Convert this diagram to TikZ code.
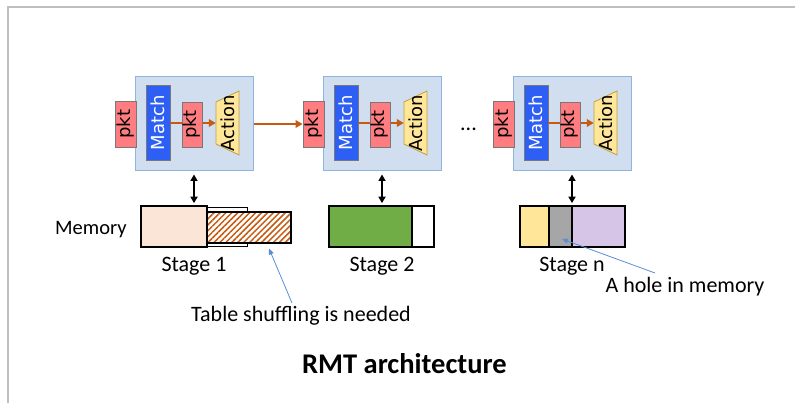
\documentclass[tikz,border=0pt]{standalone}
\usepackage{fontspec}
\setmainfont{Carlito}
\newfontfamily\boxfont{DejaVu Sans}
\usetikzlibrary{arrows.meta,patterns.meta,calc}

\definecolor{framegray}{RGB}{191,191,191}
\definecolor{boxfill}{RGB}{208,222,240}
\definecolor{boxedge}{RGB}{143,180,222}
\definecolor{pktfill}{RGB}{255,124,128}
\definecolor{pktedge}{RGB}{120,120,120}
\definecolor{matchfill}{RGB}{45,95,245}
\definecolor{actfill}{RGB}{255,230,153}
\definecolor{actedge}{RGB}{191,160,60}
\definecolor{flow}{RGB}{197,90,17}
\definecolor{peach}{RGB}{251,229,214}
\definecolor{memgreen}{RGB}{112,173,71}
\definecolor{memyellow}{RGB}{255,230,153}
\definecolor{memgray}{RGB}{166,166,166}
\definecolor{mempurple}{RGB}{215,197,232}
\definecolor{note}{RGB}{91,140,213}

% one match-action stage; #1 = horizontal offset, #2 = name suffix
\newcommand{\rmtstage}[2]{%
  \begin{scope}[xshift=#1pt]
    \node[stagebox] (st#2) at (194,124) {};
    \node[pktbox] (pin#2) at (125.5,124) {pkt};
    \node[matchbox] (mt#2) at (158,123) {Match};
    \coordinate (ac#2) at (227.5,123);
    \path[actshape] ($(ac#2)+(-11.5,-21)$) -- ($(ac#2)+(11.5,-32)$)
      -- ($(ac#2)+(11.5,32)$) -- ($(ac#2)+(-11.5,21)$) -- cycle;
    \node[actlabel] (act#2) at (ac#2) {Action};
    \draw[flowarrow] (mt#2) -- (act#2);
    \node[pktbox, minimum height=20pt, minimum width=45pt] (pmid#2) at (192,124.5) {pkt};
  \end{scope}}

\begin{document}
\begin{tikzpicture}[x=1pt,y=-1pt,
  every node/.style={font=\fontsize{22}{26}\selectfont},
  stagebox/.style={draw=boxedge, fill=boxfill, line width=1pt,
    minimum width=118pt, minimum height=94pt, inner sep=0pt},
  pktbox/.style={draw=pktedge, fill=pktfill, line width=0.8pt, rotate=90,
    minimum width=46pt, minimum height=21pt, inner sep=0pt,
    font=\boxfont\fontsize{18}{18}\selectfont},
  matchbox/.style={draw=pktedge, fill=matchfill, line width=0.8pt, rotate=90,
    minimum width=75pt, minimum height=24pt, inner sep=0pt, text=white,
    font=\boxfont\fontsize{18}{18}\selectfont},
  actshape/.style={draw=actedge, fill=actfill, line width=0.8pt},
  actlabel/.style={rotate=90, minimum width=64pt, minimum height=23pt,
    inner sep=0pt, font=\boxfont\fontsize{18}{18}\selectfont},
  flowarrow/.style={draw=flow, line width=2.2pt,
    -{Triangle[length=7pt,width=7.5pt]}},
  memcell/.style={draw=black, line width=1.7pt, minimum height=41pt,
    inner sep=0pt},
  memlink/.style={line width=1.7pt,
    {Triangle[length=6.5pt,width=7pt]}-{Triangle[length=6.5pt,width=7pt]},
    shorten <=3pt, shorten >=2pt},
  notearrow/.style={draw=note, line width=0.8pt,
    -{Triangle[length=6pt,width=5pt]}},
  label/.style={anchor=base, inner sep=0pt}]

\useasboundingbox (0,0) rectangle (795,403);
\draw[framegray, line width=2pt] (8,403) -- (8,7) -- (795,7);

% the three pipeline stages
\rmtstage{0}{1}
\rmtstage{188}{2}
\rmtstage{378}{n}

\draw[flowarrow] (st1) -- (pin2);
\node[label] (dots) at (468.5,131) {...};

% stage 1 memory: used block, free space and the table that needs room
\node[memcell, draw, line width=0.8pt, minimum width=40pt, minimum height=39pt] (m1free) at (227,226.5) {};
\node[memcell, fill=peach, minimum width=66pt] (m1) at (174,226.5) {};
\node[memcell, minimum width=84pt, minimum height=31pt,
  preaction={fill=white},
  pattern={Lines[angle=45,distance=4.2pt,line width=1.5pt]}, pattern color=flow] (m1t) at (249,227.5) {};

% stage 2 memory
\node[memcell, fill=memgreen, minimum width=83pt] (m2) at (370.5,226.5) {};
\node[memcell, fill=white, minimum width=22pt] (m2free) at (423,226.5) {};

% stage n memory with a hole
\node[memcell, fill=memyellow, minimum width=29pt] (mny) at (534.5,226.5) {};
\node[memcell, fill=memgray, minimum width=23pt] (mng) at (560.5,226.5) {};
\node[memcell, fill=mempurple, minimum width=53pt] (mnp) at (598.5,226.5) {};

% links between stages and their memory
\draw[memlink] (st1.south) -- (st1.south |- m1.north);
\draw[memlink] (st2.south) -- (st2.south |- m2.north);
\draw[memlink] (stn.south) -- (stn.south |- mnp.north);

% labels
\node[label, anchor=base west, font=\fontsize{20.5}{24}\selectfont] (memlbl) at (55,235) {Memory};
\node[label] (s1) at (194,272) {Stage 1};
\node[label] (s2) at (382,272) {Stage 2};
\node[label] (sn) at (572,272) {Stage n};
\node[label] (shuf) at (301,322) {Table shuffling is needed};
\node[label] (hole) at (685,293) {A hole in memory};
\node[label, font=\bfseries\fontsize{28.5}{32}\selectfont] (title) at (404.5,373) {RMT architecture};

% annotation arrows
\coordinate (shuftail) at (292,303);
\coordinate (shufhead) at (269,248.5);
\coordinate (holetail) at (655,273);
\coordinate (holehead) at (562,239);
\draw[notearrow] (shuftail) -- (shufhead);
\draw[notearrow] (holetail) -- (holehead);
\end{tikzpicture}
\end{document}
